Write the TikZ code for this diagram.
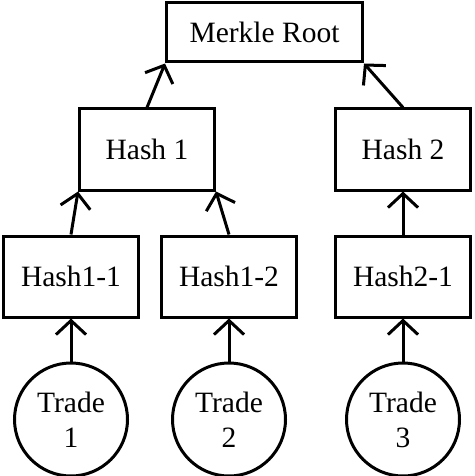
\documentclass[tikz,border=0pt]{standalone}
\usepackage{fontspec}
\setmainfont{Liberation Serif}
\usetikzlibrary{arrows.meta, positioning}
\tikzstyle{block} = [rectangle, draw, line width=3pt, text centered, minimum width=135pt, minimum height=81pt, font=\fontsize{29.5}{34}\selectfont]
\tikzstyle{trade} = [circle, draw, line width=3pt, align=center, minimum size=113pt, inner sep=0pt, font=\fontsize{29.5}{35}\selectfont]
\tikzstyle{link} = [line width=3pt, -{Straight Barb[length=14pt, width=30pt, line width=3pt]}]

\begin{document}
\begin{tikzpicture}
	\useasboundingbox (0,0) rectangle (474pt,-476pt);

	% Leaf hashes
	\node (hash11) [block] at (71pt,-276.5pt) {Hash1-1};
	\node (hash12) [block, right=20pt of hash11] {Hash1-2};
	\node (hash21) [block, right=36pt of hash12] {Hash2-1};

	% Trades
	\node (trade1) [trade, below=43pt of hash11] {Trade\\1};
	\node (trade2) [trade, below=43pt of hash12] {Trade\\2};
	\node (trade3) [trade, below=43pt of hash21] {Trade\\3};

	% Upper hashes and root
	\node (hash1) [block, above right=43pt and -62pt of hash11] {Hash 1};
	\node (hash2) [block, above=43pt of hash21] {Hash 2};
	\node (root) [block, minimum width=196pt, minimum height=59pt, above right=44pt and -51pt of hash1] {Merkle Root};

	% Arrows
	\draw[link] (trade1) -- (hash11);
	\draw[link] (trade2) -- (hash12);
	\draw[link] (trade3) -- (hash21);
	\draw[link] (hash11.north) -- (hash1.south west);
	\draw[link] (hash12.north) -- (hash1.south east);
	\draw[link] (hash21) -- (hash2);
	\draw[link] (hash1.north) -- (root.south west);
	\draw[link] (hash2.north) -- (root.south east);

\end{tikzpicture}
\end{document}
